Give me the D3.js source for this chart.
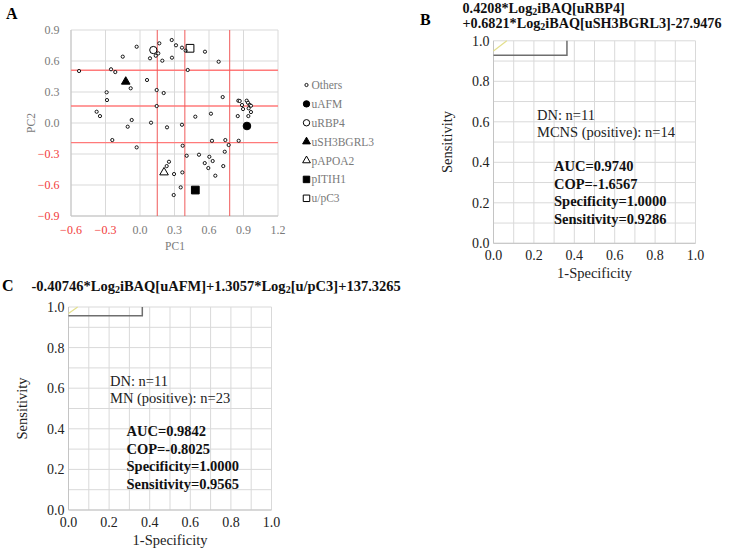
<!DOCTYPE html>
<html><head><meta charset="utf-8">
<script src="https://cdn.jsdelivr.net/npm/d3@7"></script>
<style>
body{margin:0;background:#fff}
svg{display:block}
text{font-family:"Liberation Serif","Times New Roman",serif}
</style>
</head><body>
<svg id="chart" width="731" height="550"></svg>
<script>
// ---------- DATA ----------
const othersX=[-0.029,0.168,-0.150,0.087,0.137,0.159,-0.530,-0.252,-0.215,-0.081,0.061,0.145,-0.290,-0.287,-0.377,-0.348,0.145,-0.072,-0.107,0.096,-0.241,-0.029,0.276,0.313,0.365,0.397,0.565,0.194,0.278,0.684,0.415,0.206,0.719,0.855,0.867,0.928,0.939,0.887,0.954,0.965,0.896,0.945,0.965,0.942,0.850,0.481,0.617,0.235,0.365,0.626,0.742,0.858,0.771,0.371,0.406,0.513,0.603,0.632,0.563,0.594,0.737,0.724,0.655,0.252,0.232,0.296,0.368,0.354,0.293];
const othersY=[0.738,0.771,0.642,0.626,0.651,0.674,0.503,0.520,0.493,0.336,0.416,0.319,0.297,0.222,0.109,0.067,0.164,0.029,-0.036,0.003,-0.165,-0.236,0.803,0.752,0.729,0.700,0.690,0.603,0.632,0.593,0.513,0.290,0.251,0.216,0.213,0.216,0.196,0.174,0.174,0.167,0.135,0.142,0.106,0.067,0.067,0.061,0.090,-0.042,-0.017,-0.172,-0.165,-0.172,-0.213,-0.220,-0.317,-0.307,-0.327,-0.368,-0.388,-0.436,-0.278,-0.417,-0.510,-0.375,-0.417,-0.494,-0.478,-0.623,-0.697];
const markerNames=["uAFM","uRBP4","uSH3BGRL3","pAPOA2","pITIH1","u/pC3"];
const markerX=[0.930,0.116,-0.124,0.209,0.481,0.435];
const markerY=[-0.029,0.706,0.400,-0.478,-0.649,0.723];
const legendLabels=["Others"].concat(markerNames);
const pcaXTicks=[-0.6,-0.3,0.0,0.3,0.6,0.9,1.2];
const pcaYTicks=[-0.9,-0.6,-0.3,0.0,0.3,0.6,0.9];
const cutX=[0.15,0.39,0.78];
const cutY=[0.51,0.165,-0.19];

const rocTicks=[0.0,0.2,0.4,0.6,0.8,1.0];
const rocGrid=[0.0,0.1,0.2,0.3,0.4,0.5,0.6,0.7,0.8,0.9,1.0];
const rocB_fpr=[0,0.3636,0.3636];
const rocB_tpr=[0.9286,0.9286,1.0];
const refB_fpr=[0,0.066];
const refB_tpr=[0.95,1.0];
const rocC_fpr=[0,0.3636,0.3636];
const rocC_tpr=[0.9565,0.9565,1.0];
const refC_fpr=[0,0.045];
const refC_tpr=[0.968,1.0];
const groupsB=["DN: n=11","MCNS (positive): n=14"];
const statsB=["AUC=0.9740","COP=-1.6567","Specificity=1.0000","Sensitivity=0.9286"];
const groupsC=["DN: n=11","MN (positive): n=23"];
const statsC=["AUC=0.9842","COP=-0.8025","Specificity=1.0000","Sensitivity=0.9565"];

// ---------- DRAW ----------
const svg=d3.select("#chart");
const fmt=d3.format(".1f");
const GRID="#d9d9d9", GRAYTXT="#7a7a7a", RED="#f23a3a";

// Panel A
(function(){
  const x=d3.scaleLinear().domain([-0.6,1.2]).range([71,278]);
  const y=d3.scaleLinear().domain([-0.9,0.9]).range([216,30]);
  const g=svg.append("g");
  g.append("text").attr("x",6).attr("y",19).attr("font-size",16).attr("font-weight","bold").text("A");
  g.selectAll(".gx").data(pcaXTicks).join("line")
    .attr("x1",d=>x(d)).attr("x2",d=>x(d)).attr("y1",y(0.9)).attr("y2",y(-0.9))
    .attr("stroke",GRID).attr("stroke-width",1);
  g.selectAll(".gy").data(pcaYTicks).join("line")
    .attr("y1",d=>y(d)).attr("y2",d=>y(d)).attr("x1",x(-0.6)).attr("x2",x(1.2))
    .attr("stroke",GRID).attr("stroke-width",1);
  g.append("line").attr("x1",x(-0.6)).attr("x2",x(-0.6)).attr("y1",y(0.9)).attr("y2",y(-0.9)).attr("stroke","#c4c4c4");
  g.append("line").attr("x1",x(-0.6)).attr("x2",x(1.2)).attr("y1",y(-0.9)).attr("y2",y(-0.9)).attr("stroke","#c4c4c4");
  // cut lines
  g.selectAll(".cy").data(cutY).join("line")
    .attr("y1",d=>y(d)).attr("y2",d=>y(d)).attr("x1",x(-0.6)).attr("x2",x(1.2))
    .attr("stroke","#ff7a7a").attr("stroke-width",1.4);
  g.selectAll(".cx").data(cutX).join("line")
    .attr("x1",d=>x(d)).attr("x2",d=>x(d)).attr("y1",y(0.9)).attr("y2",y(-0.9))
    .attr("stroke","#f05a5a").attr("stroke-width",1);
  // tick labels
  g.selectAll(".tx").data(pcaXTicks).join("text")
    .attr("x",d=>x(d)).attr("y",234).attr("text-anchor","middle").attr("font-size",12)
    .attr("fill",d=>d<0?RED:GRAYTXT).text(d=>fmt(d));
  g.selectAll(".ty").data(pcaYTicks).join("text")
    .attr("x",59.5).attr("y",d=>y(d)+4).attr("text-anchor","end").attr("font-size",12)
    .attr("fill",d=>d<0?RED:GRAYTXT).text(d=>fmt(d));
  g.append("text").attr("x",175).attr("y",250).attr("text-anchor","middle").attr("font-size",11.5).attr("fill",GRAYTXT).text("PC1");
  g.append("text").attr("transform","translate(35,123) rotate(-90)").attr("text-anchor","middle").attr("font-size",11.5).attr("fill",GRAYTXT).text("PC2");
  // others
  const pts=othersX.map((v,i)=>({x:v,y:othersY[i]}));
  g.selectAll(".o").data(pts).join("circle")
    .attr("cx",d=>x(d.x)).attr("cy",d=>y(d.y)).attr("r",1.6)
    .attr("fill","#fff").attr("stroke","#000").attr("stroke-width",0.9);
  // marker styles
  const mstyle={
    "uAFM":{type:d3.symbolCircle,size:46,fill:"#000"},
    "uRBP4":{type:d3.symbolCircle,size:42,fill:"none"},
    "uSH3BGRL3":{type:d3.symbolTriangle,size:32,fill:"#000"},
    "pAPOA2":{type:d3.symbolTriangle,size:32,fill:"none"},
    "pITIH1":{type:d3.symbolSquare,size:60,fill:"#000"},
    "u/pC3":{type:d3.symbolSquare,size:60,fill:"none"}
  };
  markerNames.forEach((n,i)=>{
    const s=mstyle[n];
    g.append("path").attr("d",d3.symbol().type(s.type).size(s.size)())
      .attr("transform",`translate(${x(markerX[i])},${y(markerY[i])})`)
      .attr("fill",s.fill).attr("stroke","#000").attr("stroke-width",1);
  });
  // legend
  const ly=d3.scaleLinear().domain([0,6]).range([85,198.3]);
  legendLabels.forEach((n,i)=>{
    const cy=ly(i);
    if(i===0){
      g.append("circle").attr("cx",306.5).attr("cy",cy).attr("r",1.6).attr("fill","#fff").attr("stroke","#000").attr("stroke-width",0.9);
    } else {
      const s=mstyle[n];
      const sz=s.type===d3.symbolSquare?42:(s.type===d3.symbolTriangle?26:32);
      g.append("path").attr("d",d3.symbol().type(s.type).size(sz)())
        .attr("transform",`translate(306.5,${cy})`).attr("fill",s.fill).attr("stroke","#000").attr("stroke-width",1);
    }
    g.append("text").attr("x",311.5).attr("y",cy+4).attr("font-size",11.5).attr("fill",GRAYTXT).text(n);
  });
})();

// ROC panel function
function drawROC(o){
  const x=d3.scaleLinear().domain([0,1]).range([o.left,o.right]);
  const y=d3.scaleLinear().domain([0,1]).range([o.bottom,o.top]);
  const g=svg.append("g");
  g.selectAll(".gx").data(rocGrid).join("line")
    .attr("x1",d=>x(d)).attr("x2",d=>x(d)).attr("y1",y(0)).attr("y2",y(1))
    .attr("stroke",GRID);
  g.selectAll(".gy").data(rocGrid).join("line")
    .attr("y1",d=>y(d)).attr("y2",d=>y(d)).attr("x1",x(0)).attr("x2",x(1))
    .attr("stroke",GRID);
  g.append("line").attr("x1",x(0)).attr("x2",x(0)).attr("y1",y(0)).attr("y2",y(1)).attr("stroke","#c4c4c4");
  g.append("line").attr("x1",x(0)).attr("x2",x(1)).attr("y1",y(0)).attr("y2",y(0)).attr("stroke","#c4c4c4");
  const line=d3.line().x(d=>x(d[0])).y(d=>y(d[1]));
  g.append("path").attr("d",line(o.refX.map((v,i)=>[v,o.refY[i]])))
    .attr("fill","none").attr("stroke","#e3df8c").attr("stroke-width",1.2);
  g.append("path").attr("d",line(o.fpr.map((v,i)=>[v,o.tpr[i]])))
    .attr("fill","none").attr("stroke","#6e6e6e").attr("stroke-width",1.5);
  g.selectAll(".tx").data(rocTicks).join("text")
    .attr("x",d=>x(d)).attr("y",y(0)+16.5).attr("text-anchor","middle").attr("font-size",14).attr("fill","#222").text(d=>fmt(d));
  g.selectAll(".ty").data(rocTicks).join("text")
    .attr("x",x(0)-4).attr("y",d=>y(d)+5).attr("text-anchor","end").attr("font-size",14).attr("fill","#222").text(d=>fmt(d));
  g.append("text").attr("x",(x(0)+x(1))/2).attr("y",y(0)+35).attr("text-anchor","middle").attr("font-size",14.5).attr("fill","#222").text("1-Specificity");
  g.append("text").attr("transform",`translate(${o.ylabX},${(y(0)+y(1))/2}) rotate(-90)`).attr("text-anchor","middle").attr("font-size",14.5).attr("fill","#222").text("Sensitivity");
  o.groups.forEach((t,i)=>{
    g.append("text").attr("x",o.gx).attr("y",o.gy+i*17.3).attr("font-size",14.5).attr("fill","#222").text(t);
  });
  o.stats.forEach((t,i)=>{
    g.append("text").attr("x",o.sx).attr("y",o.sy+i*17.6).attr("font-size",14.5).attr("font-weight","bold").attr("fill","#111").text(t);
  });
  return g;
}

function titleLine(x,y,parts,fs){
  const t=svg.append("text").attr("x",x).attr("y",y).attr("font-size",fs||14.5).attr("font-weight","bold").attr("fill","#111");
  let shifted=false;
  parts.forEach(p=>{
    const ts=t.append("tspan").text(p.t);
    if(p.sub){ ts.attr("font-size",10).attr("dy",2.5); shifted=true; }
    else if(shifted){ ts.attr("dy",-2.5); shifted=false; }
  });
}

// Panel B
svg.append("text").attr("x",420).attr("y",25).attr("font-size",16).attr("font-weight","bold").text("B");
titleLine(462.5,12.5,[{t:"0.4208*Log"},{t:"2",sub:true},{t:"iBAQ[uRBP4]"}],14.2);
titleLine(462.5,27.5,[{t:"+0.6821*Log"},{t:"2",sub:true},{t:"iBAQ[uSH3BGRL3]-27.9476"}],14.2);
drawROC({left:493.5,right:695.5,top:40.8,bottom:243.3,fpr:rocB_fpr,tpr:rocB_tpr,refX:refB_fpr,refY:refB_tpr,
  ylabX:452,groups:groupsB,gx:537,gy:120,stats:statsB,sx:554,sy:171});

// Panel C
svg.append("text").attr("x",2).attr("y",290.5).attr("font-size",16).attr("font-weight","bold").text("C");
titleLine(31.5,290.5,[{t:"-0.40746*Log"},{t:"2",sub:true},{t:"iBAQ[uAFM]+1.3057*Log"},{t:"2",sub:true},{t:"[u/pC3]+137.3265"}]);
drawROC({left:68.5,right:271.5,top:307,bottom:510,fpr:rocC_fpr,tpr:rocC_tpr,refX:refC_fpr,refY:refC_tpr,
  ylabX:27,groups:groupsC,gx:110,gy:386,stats:statsC,sx:126.5,sy:436});
</script>
</body></html>
